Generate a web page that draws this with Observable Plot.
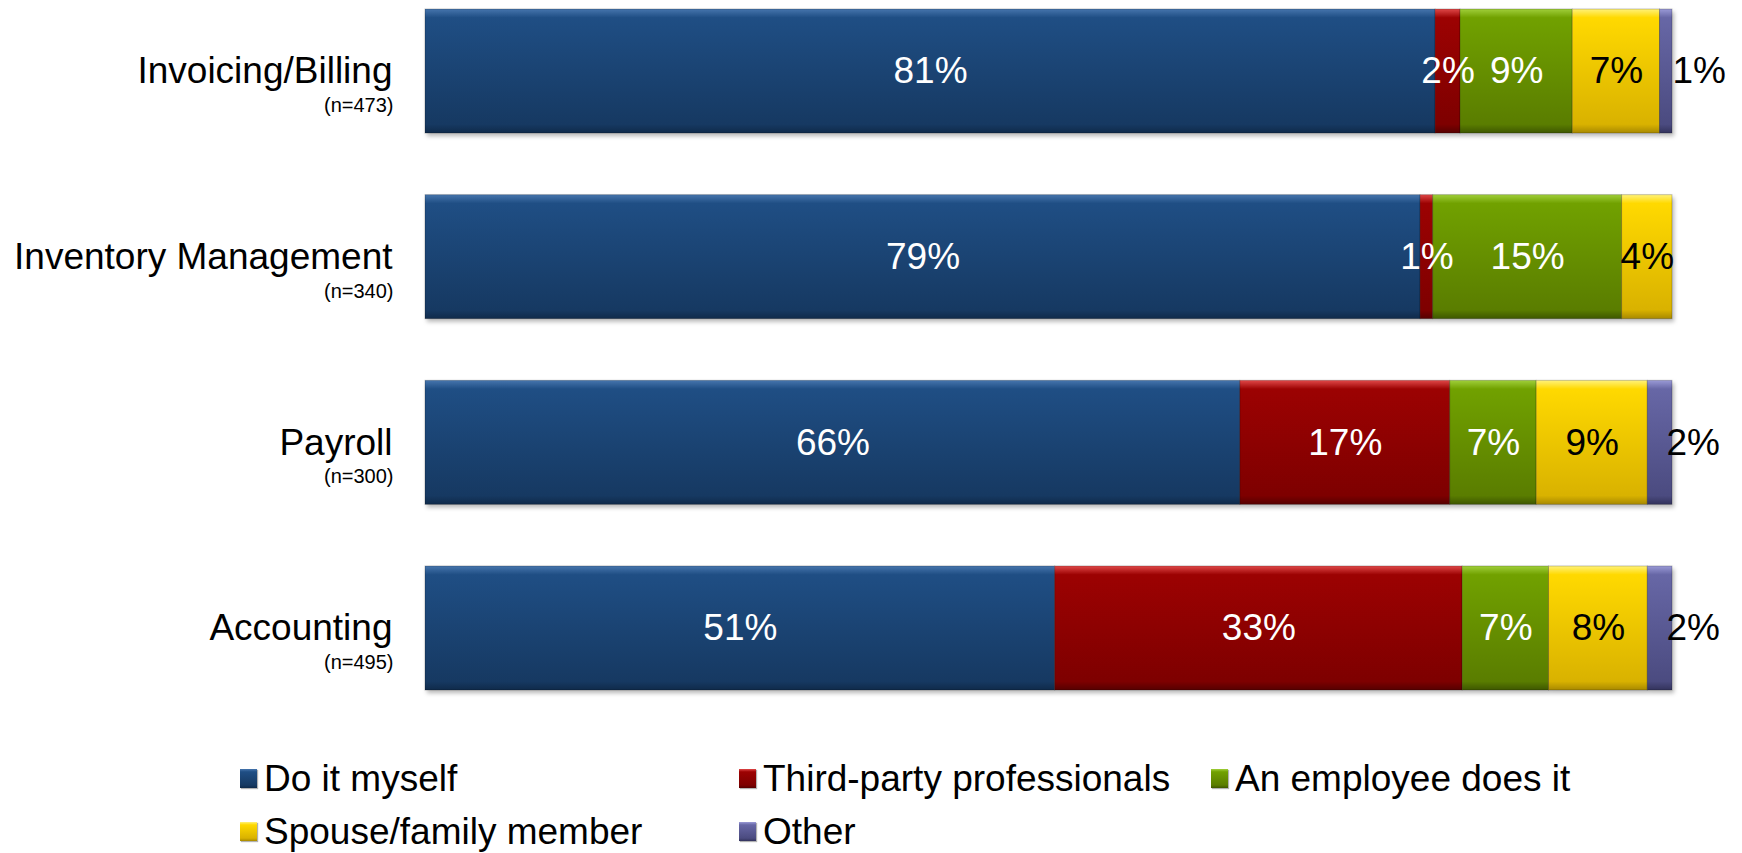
<!DOCTYPE html>
<html>
<head>
<meta charset="utf-8">
<script src="https://cdn.jsdelivr.net/npm/d3@7"></script>
<script src="https://cdn.jsdelivr.net/npm/@observablehq/plot@0.6"></script>
<style>
  html, body { margin: 0; padding: 0; background: #fff; }
  #wrap { position: relative; width: 1742px; height: 853px; font-family: "Liberation Sans", Arial, sans-serif; }
  .bars { filter: drop-shadow(2px 3px 2px rgba(0,0,0,0.28)); }
  .leg { position: absolute; display: flex; align-items: center; font-size: 37px; color: #000; line-height: 1; white-space: nowrap; }
  .sw { width: 17px; height: 19px; margin-right: 7px; box-shadow: 1px 1px 1px rgba(0,0,0,0.3); }
</style>
</head>
<body>
<div id="wrap"></div>
<script>
const categories = ["Invoicing/Billing", "Inventory Management", "Payroll", "Accounting"];
const sampleSizes = ["(n=473)", "(n=340)", "(n=300)", "(n=495)"];
const series = ["Do it myself", "Third-party professionals", "An employee does it", "Spouse/family member", "Other"];
const doItMyself = [81, 79, 66, 51];
const thirdParty = [2, 1, 17, 33];
const employee = [9, 15, 7, 7];
const spouse = [7, 4, 9, 8];
const other = [1, 0, 2, 2];

const seriesValues = [doItMyself, thirdParty, employee, spouse, other];
const gradStops = [
  ["#4675ad", "#1f4e84", "#163962", "#0f2a4a"],
  ["#e04848", "#9c0202", "#7e0000", "#560000"],
  ["#a0cf3a", "#71a100", "#5a7d00", "#3e5700"],
  ["#fff27a", "#ffd900", "#d9b200", "#a88900"],
  ["#9a9ad6", "#6767a6", "#4b4b80", "#33335c"]
];
const labelColors = ["white", "white", "white", "black", "black"];

const table = [];
series.forEach((s, si) => {
  categories.forEach((c, ci) => {
    table.push({series: s, si, category: c, value: seriesValues[si][ci]});
  });
});
const nTable = categories.map((c, i) => ({category: c, n: sampleSizes[i]}));

const stackOpts = (extra) => Plot.stackX({x: "value", y: "category", z: "series", offset: "normalize", ...extra});

const chart = Plot.plot({
  width: 1742,
  height: 720,
  marginLeft: 425,
  marginRight: 70,
  marginTop: 9,
  marginBottom: 30,
  x: {domain: [0, 1], axis: null},
  y: {domain: categories, axis: null, paddingInner: 0.332, paddingOuter: 0, round: false},
  color: {type: "identity"},
  style: {fontFamily: "'Liberation Sans', Arial, sans-serif", background: "white", overflow: "visible"},
  marks: [
    Plot.barX(table, stackOpts({
      fill: d => `url(#grad${d.si})`,
      stroke: "rgba(0,0,0,0.22)",
      strokeWidth: 1,
      className: "bars"
    })),
    Plot.text(table, stackOpts({
      text: d => (d.series !== "Other" && d.value > 0) ? d.value + "%" : "",
      fill: d => labelColors[d.si],
      fontSize: 37
    })),
    Plot.text(table, stackOpts({
      text: d => (d.series === "Other" && d.value > 0) ? d.value + "%" : "",
      fill: d => labelColors[d.si],
      fontSize: 37,
      dx: 33
    })),
    Plot.text(categories, {
      x: 0, y: d => d, text: d => d,
      textAnchor: "end", dx: -33, fontSize: 37, fill: "black"
    }),
    Plot.text(nTable, {
      x: 0, y: "category", text: "n",
      textAnchor: "end", dx: -32, dy: 34, fontSize: 20, fill: "black"
    })
  ]
});

// gradient definitions
const svg = d3.select(chart);
const defs = svg.insert("defs", ":first-child");
gradStops.forEach((st, i) => {
  const g = defs.append("linearGradient").attr("id", `grad${i}`)
    .attr("x1", 0).attr("y1", 0).attr("x2", 0).attr("y2", 1);
  g.append("stop").attr("offset", 0).attr("stop-color", st[0]);
  g.append("stop").attr("offset", 0.07).attr("stop-color", st[1]);
  g.append("stop").attr("offset", 0.93).attr("stop-color", st[2]);
  g.append("stop").attr("offset", 1).attr("stop-color", st[3]);
});

const wrap = document.getElementById("wrap");
wrap.appendChild(chart);

// legend
const legendPos = [
  {left: 240, top: 778}, {left: 739, top: 778}, {left: 1211, top: 778},
  {left: 240, top: 831}, {left: 739, top: 831}
];
series.forEach((s, i) => {
  const item = document.createElement("div");
  item.className = "leg";
  item.style.left = legendPos[i].left + "px";
  item.style.top = (legendPos[i].top - 20) + "px";
  item.style.height = "40px";
  const sw = document.createElement("div");
  sw.className = "sw";
  const st = gradStops[i];
  sw.style.background = `linear-gradient(to bottom, ${st[0]} 0%, ${st[1]} 15%, ${st[2]} 85%, ${st[3]} 100%)`;
  const tx = document.createElement("span");
  tx.textContent = s;
  item.appendChild(sw);
  item.appendChild(tx);
  wrap.appendChild(item);
});
</script>
</body>
</html>
